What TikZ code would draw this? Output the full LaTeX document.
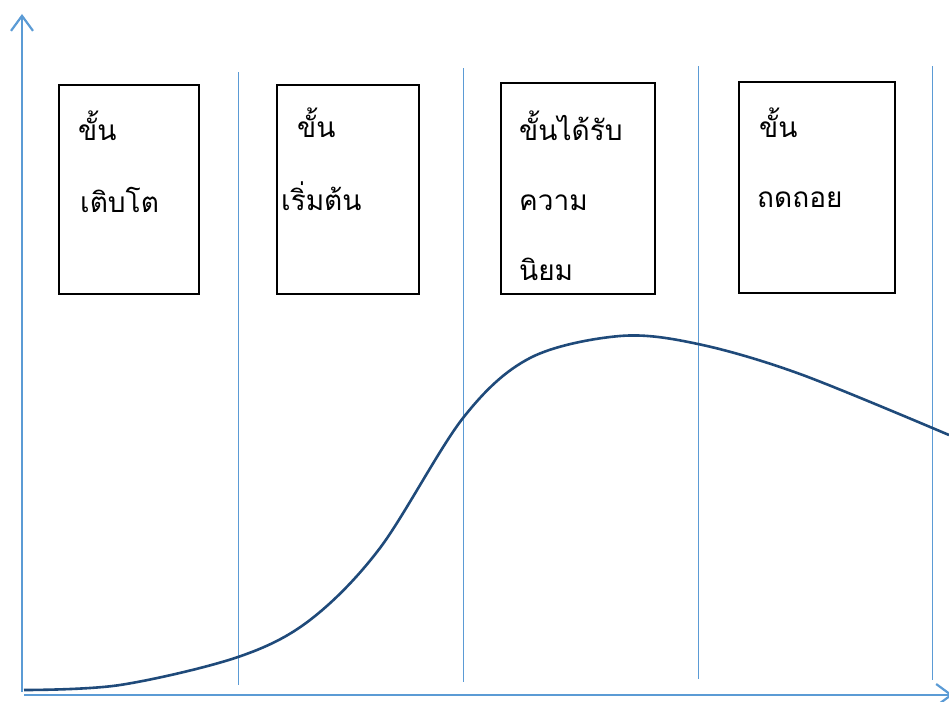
\documentclass[tikz,border=0pt]{standalone}
\usepackage{fontspec}
\newfontfamily\thaifont[Script=Thai]{Loma}
\usetikzlibrary{arrows.meta}
\definecolor{axisblue}{HTML}{5B9BD5}
\definecolor{curveblue}{HTML}{1F4A7A}
\begin{document}
\begin{tikzpicture}[x=1pt,y=-1pt,
  axis/.style={draw=axisblue,line width=2.6pt},
  divider/.style={draw=axisblue,line width=0.9pt},
  stagebox/.style={draw=black,line width=1.2pt,fill=none},
  label/.style={anchor=base west,inner sep=0pt,font=\thaifont\fontsize{28}{32}\selectfont}]
\useasboundingbox (0,0) rectangle (949,701);
% axes
\coordinate (o) at (22,692);
\coordinate (ytip) at (22,14);
\coordinate (x0) at (24,695);
\coordinate (xtip) at (953,695);
\draw[axis,-{Straight Barb[length=15pt,width=22pt,line width=2.2pt]}] (o) -- (ytip);
\draw[axis,-{Straight Barb[length=15pt,width=22pt,line width=2.2pt]}] (x0) -- (xtip);
% dividers
\coordinate (d1a) at (238,72);  \coordinate (d1b) at (238,685);
\coordinate (d2a) at (463,68);  \coordinate (d2b) at (463,682);
\coordinate (d3a) at (698,66);  \coordinate (d3b) at (698,679);
\coordinate (d4a) at (932,66);  \coordinate (d4b) at (932,680);
\draw[divider] (d1a) -- (d1b);
\draw[divider] (d2a) -- (d2b);
\draw[divider] (d3a) -- (d3b);
\draw[divider] (d4a) -- (d4b);
% boxes
\coordinate (b1a) at (59,85);  \coordinate (b1b) at (199,294);
\coordinate (b2a) at (277,85); \coordinate (b2b) at (419,294);
\coordinate (b3a) at (501,83); \coordinate (b3b) at (655,294);
\coordinate (b4a) at (739,82); \coordinate (b4b) at (895,293);
\draw[stagebox] (b1a) rectangle (b1b);
\draw[stagebox] (b2a) rectangle (b2b);
\draw[stagebox] (b3a) rectangle (b3b);
\draw[stagebox] (b4a) rectangle (b4b);
% labels
\node[label] (t1a) at (78,140) {ขั้น};
\node[label] (t1b) at (80,212) {เติบโต};
\node[label] (t2a) at (297,137) {ขั้น};
\node[label] (t2b) at (281,210) {เริ่มต้น};
\node[label] (t3a) at (519,140) {ขั้นได้รับ};
\node[label] (t3b) at (519,210) {ความ};
\node[label] (t3c) at (519,280) {นิยม};
\node[label] (t4a) at (759,137) {ขั้น};
\node[label] (t4b) at (757,207) {ถดถอย};
% curve
\draw[curveblue,line width=2.6pt] plot[smooth,tension=0.55] coordinates
 {(24,690) (120,685) (238,657) (310,620) (380,548) (463,418) (530,358) (620,336) (698,344) (800,374) (949,435)};
\end{tikzpicture}
\end{document}
